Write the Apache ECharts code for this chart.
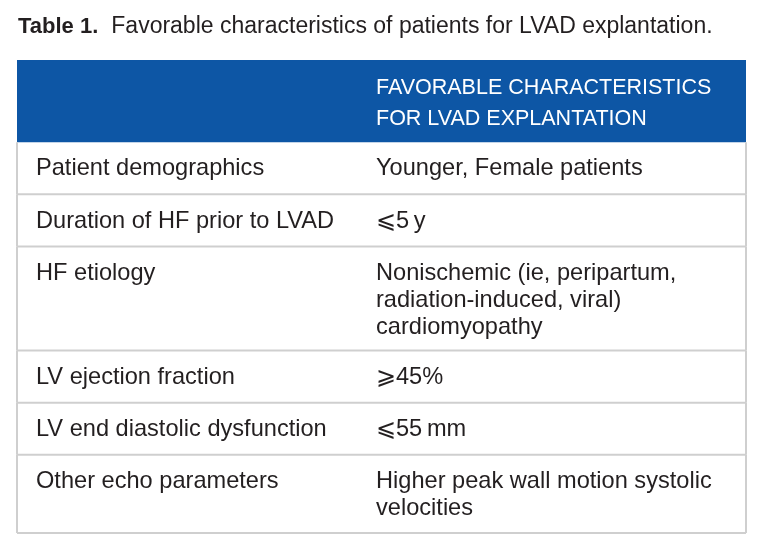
<!DOCTYPE html>
<html>
<head>
<meta charset="utf-8">
<script src="https://cdn.jsdelivr.net/npm/echarts@6/dist/echarts.min.js"></script>
<style>html,body{margin:0;padding:0;background:#fff;}#c{width:764px;height:551px;}</style>
</head>
<body>
<div id="c"></div>
<script>
const tableLabel = 'Table 1.';
const tableCaption = 'Favorable characteristics of patients for LVAD explantation.';
const headerCells = ['', 'FAVORABLE CHARACTERISTICS\nFOR LVAD EXPLANTATION'];
const characteristics = [
  'Patient demographics',
  'Duration of HF prior to LVAD',
  'HF etiology',
  'LV ejection fraction',
  'LV end diastolic dysfunction',
  'Other echo parameters'
];
const favorable = [
  'Younger, Female patients',
  '\u2A7D5\u2009y',
  'Nonischemic (ie, peripartum,\nradiation-induced, viral)\ncardiomyopathy',
  '\u2A7E45%',
  '\u2A7D55\u2009mm',
  'Higher peak wall motion systolic\nvelocities'
];

const FONT = '"Liberation Sans", Arial, Helvetica, sans-serif';
const W = 729;            // table width units (x axis)
const UNIT = 26;          // y units per text line slot
const HEADER_H = 82;

// build row extents
const rows = [];
let acc = 0;
rows.push([-1, acc, acc + HEADER_H]); acc += HEADER_H;
favorable.forEach((t, i) => {
  const n = Math.max(t.split('\n').length, characteristics[i].split('\n').length);
  const h = UNIT * (n + 1);
  rows.push([i, acc, acc + h]);
  acc += h;
});
const TOTAL = acc;

const chart = echarts.init(document.getElementById('c'));
chart.setOption({
  animation: false,
  title: {
    left: 18, top: 14, padding: 0,
    text: '{b|' + tableLabel + '}{r|' + tableCaption + '}',
    textStyle: {
      fontSize: 23, lineHeight: 26,
      rich: {
        b: { fontFamily: FONT, fontWeight: 'bold', fontSize: 22, lineHeight: 26, color: '#231f20' },
        r: { fontFamily: FONT, fontWeight: 'normal', fontSize: 23, lineHeight: 26, color: '#231f20', padding: [0, 0, 0, 13] }
      }
    }
  },
  grid: { left: 17, right: 18, top: 60, bottom: 18 },
  xAxis: { type: 'value', min: 0, max: W, show: false },
  yAxis: { type: 'value', min: 0, max: TOTAL, inverse: true, show: false },
  series: [{
    type: 'custom',
    coordinateSystem: 'cartesian2d',
    data: rows,
    clip: false,
    renderItem: function (params, api) {
      const idx = api.value(0);
      const a = api.coord([0, api.value(1)]);
      const b = api.coord([W, api.value(2)]);
      const x0 = a[0], y0 = a[1], x1 = b[0], y1 = b[1];
      const col2 = x0 + 359;
      const col1 = x0 + 19;
      const children = [];
      const gray = '#cfcfcf';
      if (idx === -1) {
        children.push({ type: 'rect', shape: { x: x0, y: y0, width: x1 - x0, height: y1 - y0 }, style: { fill: '#0d56a5' } });
        children.push({ type: 'text', style: { x: col1, y: y0 + 13, text: headerCells[0], fill: '#fff', fontFamily: FONT, fontSize: 21.5, lineHeight: 31, verticalAlign: 'top' } });
        children.push({ type: 'text', style: { x: col2, y: y0 + 13, text: headerCells[1], fill: '#fff', fontFamily: FONT, fontSize: 21.5, lineHeight: 31, verticalAlign: 'top' } });
      } else {
        children.push({ type: 'line', shape: { x1: x0, y1: y1, x2: x1, y2: y1 }, style: { stroke: gray, lineWidth: 2 } });
        children.push({ type: 'line', shape: { x1: x0, y1: y0, x2: x0, y2: y1 }, style: { stroke: gray, lineWidth: 2 } });
        children.push({ type: 'line', shape: { x1: x1, y1: y0, x2: x1, y2: y1 }, style: { stroke: gray, lineWidth: 2 } });
        children.push({ type: 'text', style: { x: col1, y: y0 + 13.3, text: characteristics[idx], fill: '#231f20', fontFamily: FONT, fontSize: 23.6, lineHeight: 27, verticalAlign: 'top' } });
        children.push({ type: 'text', style: { x: col2, y: y0 + 13.3, text: favorable[idx], fill: '#231f20', fontFamily: FONT, fontSize: 23.6, lineHeight: 27, verticalAlign: 'top' } });
      }
      return { type: 'group', children: children };
    }
  }]
});
</script>
</body>
</html>
